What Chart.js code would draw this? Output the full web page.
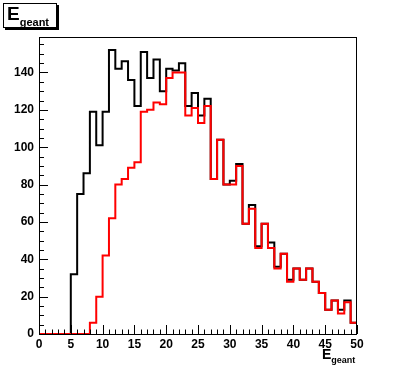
<!DOCTYPE html>
<html>
<head>
<meta charset="utf-8">
<script src="https://cdn.jsdelivr.net/npm/chart.js@4/dist/chart.umd.min.js"></script>
<style>
    html, body { margin: 0; padding: 0; background: #fff; }
    #wrap { position: relative; width: 396px; height: 372px; }
    .lbl { position: absolute; font-family: "Liberation Sans", Arial, sans-serif; font-weight: bold; color: #000; white-space: nowrap; }
    #title { left: 3px; top: 3px; width: 49px; height: 23px; border: 1px solid #000; box-shadow: 2px 2px 0 #000; background: #fff; font-size: 19px; line-height: 19px; padding-left: 3px; box-sizing: content-box; }
    #title sub { font-size: 11px; vertical-align: -6px; }
    #xtitle { left: 322px; top: 347px; font-size: 14px; line-height: 14px; }
    #xtitle sub { font-size: 9px; vertical-align: -4px; }
</style>
</head>
<body>
<div id="wrap">
    <canvas id="chart" width="396" height="372"></canvas>
    <div id="title" class="lbl">E<sub>geant</sub></div>
    <div id="xtitle" class="lbl">E<sub>geant</sub></div>
</div>
<script>
// bin i covers [i, i+1)
const binEdges = Array.from({ length: 51 }, (_, i) => i);

const blackCounts = [
    0, 0, 0, 0, 0, 32, 75, 86, 119, 101,
    119, 152, 142, 146, 136, 122, 151, 137, 147, 130,
    142, 141, 145, 122, 129, 117, 126, 83, 104, 80,
    82, 91, 59, 69, 47, 59, 49, 36, 43, 29,
    35, 29, 35, 28, 22, 13, 18, 13, 18, 6
];

const redCounts = [
    0, 0, 0, 0, 0, 0, 0, 0, 6, 20,
    42, 62, 80, 83, 89, 92, 119, 120, 124, 123,
    137, 140, 140, 117, 121, 113, 122, 83, 104, 80,
    80, 90, 59, 67, 46, 59, 46, 35, 43, 28,
    35, 29, 35, 28, 22, 13, 18, 11, 17, 6
];

const xTicks = [0, 5, 10, 15, 20, 25, 30, 35, 40, 45, 50];
const yTicks = [0, 20, 40, 60, 80, 100, 120, 140];

const font = { family: '"Liberation Sans", Arial, sans-serif', size: 12, weight: 'bold' };

function toSteps(counts) {
    // point at each left bin edge, plus the closing right edge
    const pts = counts.map((c, i) => ({ x: binEdges[i], y: c }));
    pts.push({ x: binEdges[counts.length], y: counts[counts.length - 1] });
    return pts;
}

// ROOT style frame with inward ticks
const frameTicks = {
    id: 'frameTicks',
    afterDraw: (chart) => {
        const { ctx, chartArea } = chart;
        const { left, right, top, bottom } = chartArea;
        const xs = chart.scales.x;
        const ys = chart.scales.y;
        ctx.save();
        ctx.strokeStyle = '#000';
        ctx.lineWidth = 1;
        ctx.beginPath();
        for (let v = 0; v <= 50; v++) {
            const px = Math.round(xs.getPixelForValue(v)) + 0.5;
            const len = v % 5 === 0 ? 9 : 4.5;
            ctx.moveTo(px, bottom);
            ctx.lineTo(px, bottom - len);
        }
        for (let v = 0; v <= ys.max; v += 5) {
            const py = Math.round(ys.getPixelForValue(v)) + 0.5;
            const len = v % 20 === 0 ? 9 : 5;
            ctx.moveTo(left, py);
            ctx.lineTo(left + len, py);
        }
        ctx.stroke();
        ctx.strokeRect(left + 0.5, top + 0.5, right - left - 1, bottom - top);
        ctx.restore();
    }
};

new Chart(document.getElementById('chart'), {
    type: 'line',
    data: {
        datasets: [
            {
                label: 'red',
                data: toSteps(redCounts),
                borderColor: '#ff0000',
                borderWidth: 2,
                stepped: 'before',
                pointRadius: 0,
                fill: false,
                order: 0,
            },
            {
                label: 'black',
                data: toSteps(blackCounts),
                borderColor: '#000000',
                borderWidth: 2,
                stepped: 'before',
                pointRadius: 0,
                fill: false,
                order: 1,
            },
        ],
    },
    options: {
        responsive: false,
        animation: false,
        events: [],
        layout: { padding: { left: 0, top: 37, right: 39, bottom: 0 } },
        plugins: {
            legend: { display: false },
            tooltip: { enabled: false },
        },
        scales: {
            x: {
                type: 'linear',
                min: 0,
                max: 50,
                grid: { display: false, drawTicks: false },
                border: { display: false },
                afterFit: (scale) => { scale.height = 38; },
                afterBuildTicks: (scale) => { scale.ticks = xTicks.map(v => ({ value: v })); },
                ticks: { font: font, color: '#000', padding: 3, maxRotation: 0, autoSkip: false },
            },
            y: {
                type: 'linear',
                min: 0,
                max: 159,
                grid: { display: false, drawTicks: false },
                border: { display: false },
                afterFit: (scale) => { scale.width = 39; },
                afterBuildTicks: (scale) => { scale.ticks = yTicks.map(v => ({ value: v })); },
                ticks: { font: font, color: '#000', padding: 5 },
            },
        },
    },
    plugins: [frameTicks],
});
</script>
</body>
</html>
